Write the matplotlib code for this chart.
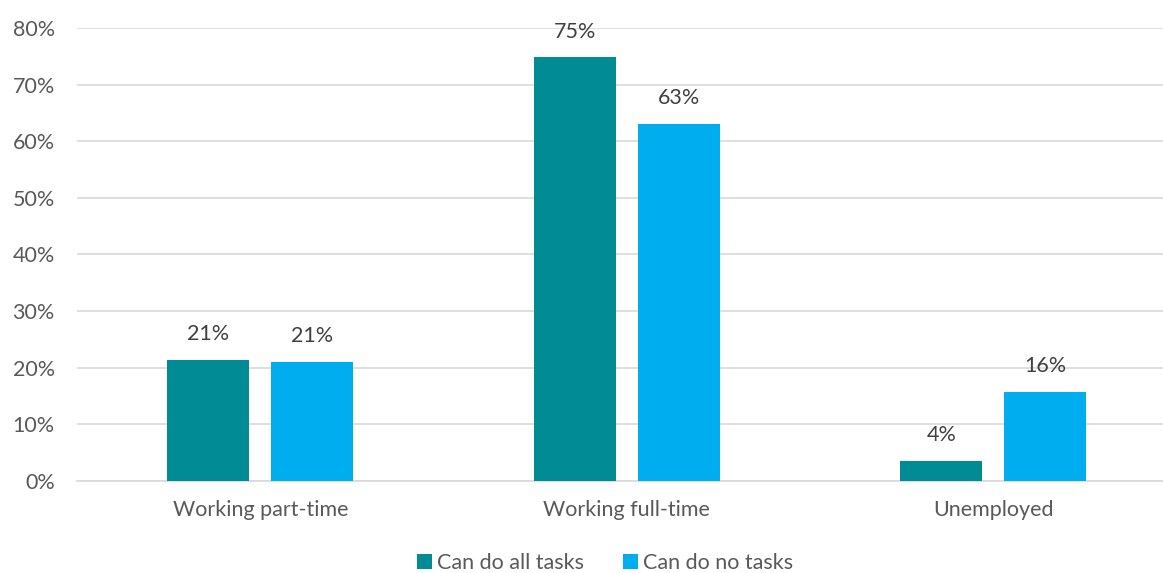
import matplotlib.pyplot as plt
import numpy as np

categories = ["Working part-time", "Working full-time", "Unemployed"]
all_tasks = [21.4, 74.8, 3.6]
no_tasks = [21.0, 63.1, 15.7]
series_names = ["Can do all tasks", "Can do no tasks"]

plt.rcParams['font.family'] = ['Lato', 'DejaVu Sans']
text_color = "#595959"
fs = 15.5

fig = plt.figure(figsize=(11.63, 5.73), dpi=100)
ax = fig.add_axes([77 / 1163, 1 - 481 / 573, 1 - 77 / 1163, (481 - 28) / 573])

x = np.arange(len(categories))
w = 0.224
off = 0.142
b1 = ax.bar(x - off, all_tasks, w, color="#008B95", label=series_names[0], zorder=3)
b2 = ax.bar(x + off, no_tasks, w, color="#00AEEF", label=series_names[1], zorder=3)

# value labels above each bar
for bars, vals in [(b1, all_tasks), (b2, no_tasks)]:
    for rect, v in zip(bars, vals):
        ax.text(rect.get_x() + rect.get_width() / 2, v + 2.8, f"{round(v)}%",
                ha='center', va='bottom', fontsize=fs, color="#404040")

ax.set_xlim(-0.5, 2.463)
ax.set_ylim(0, 80)
ax.set_yticks(range(0, 81, 10))
ax.set_yticklabels([f"{t}%" for t in range(0, 81, 10)])
ax.set_xticks(x)
ax.set_xticklabels(categories)
ax.tick_params(axis='both', length=0, labelsize=fs, labelcolor=text_color)
ax.tick_params(axis='x', pad=14)
ax.tick_params(axis='y', pad=16)
ax.grid(axis='y', color="#D9D9D9", linewidth=1.2, zorder=0)
for s in ["top", "right", "left"]:
    ax.spines[s].set_visible(False)
ax.spines["bottom"].set_color("#D9D9D9")
ax.spines["bottom"].set_linewidth(1.2)

fig.legend(loc='center', bbox_to_anchor=(605 / 1163, 1 - 563 / 573), ncol=2,
           frameon=False, fontsize=fs, labelcolor=text_color,
           handlelength=0.7, handleheight=0.7, handletextpad=0.25, columnspacing=1.8)

fig.savefig("out.png", dpi=100)
